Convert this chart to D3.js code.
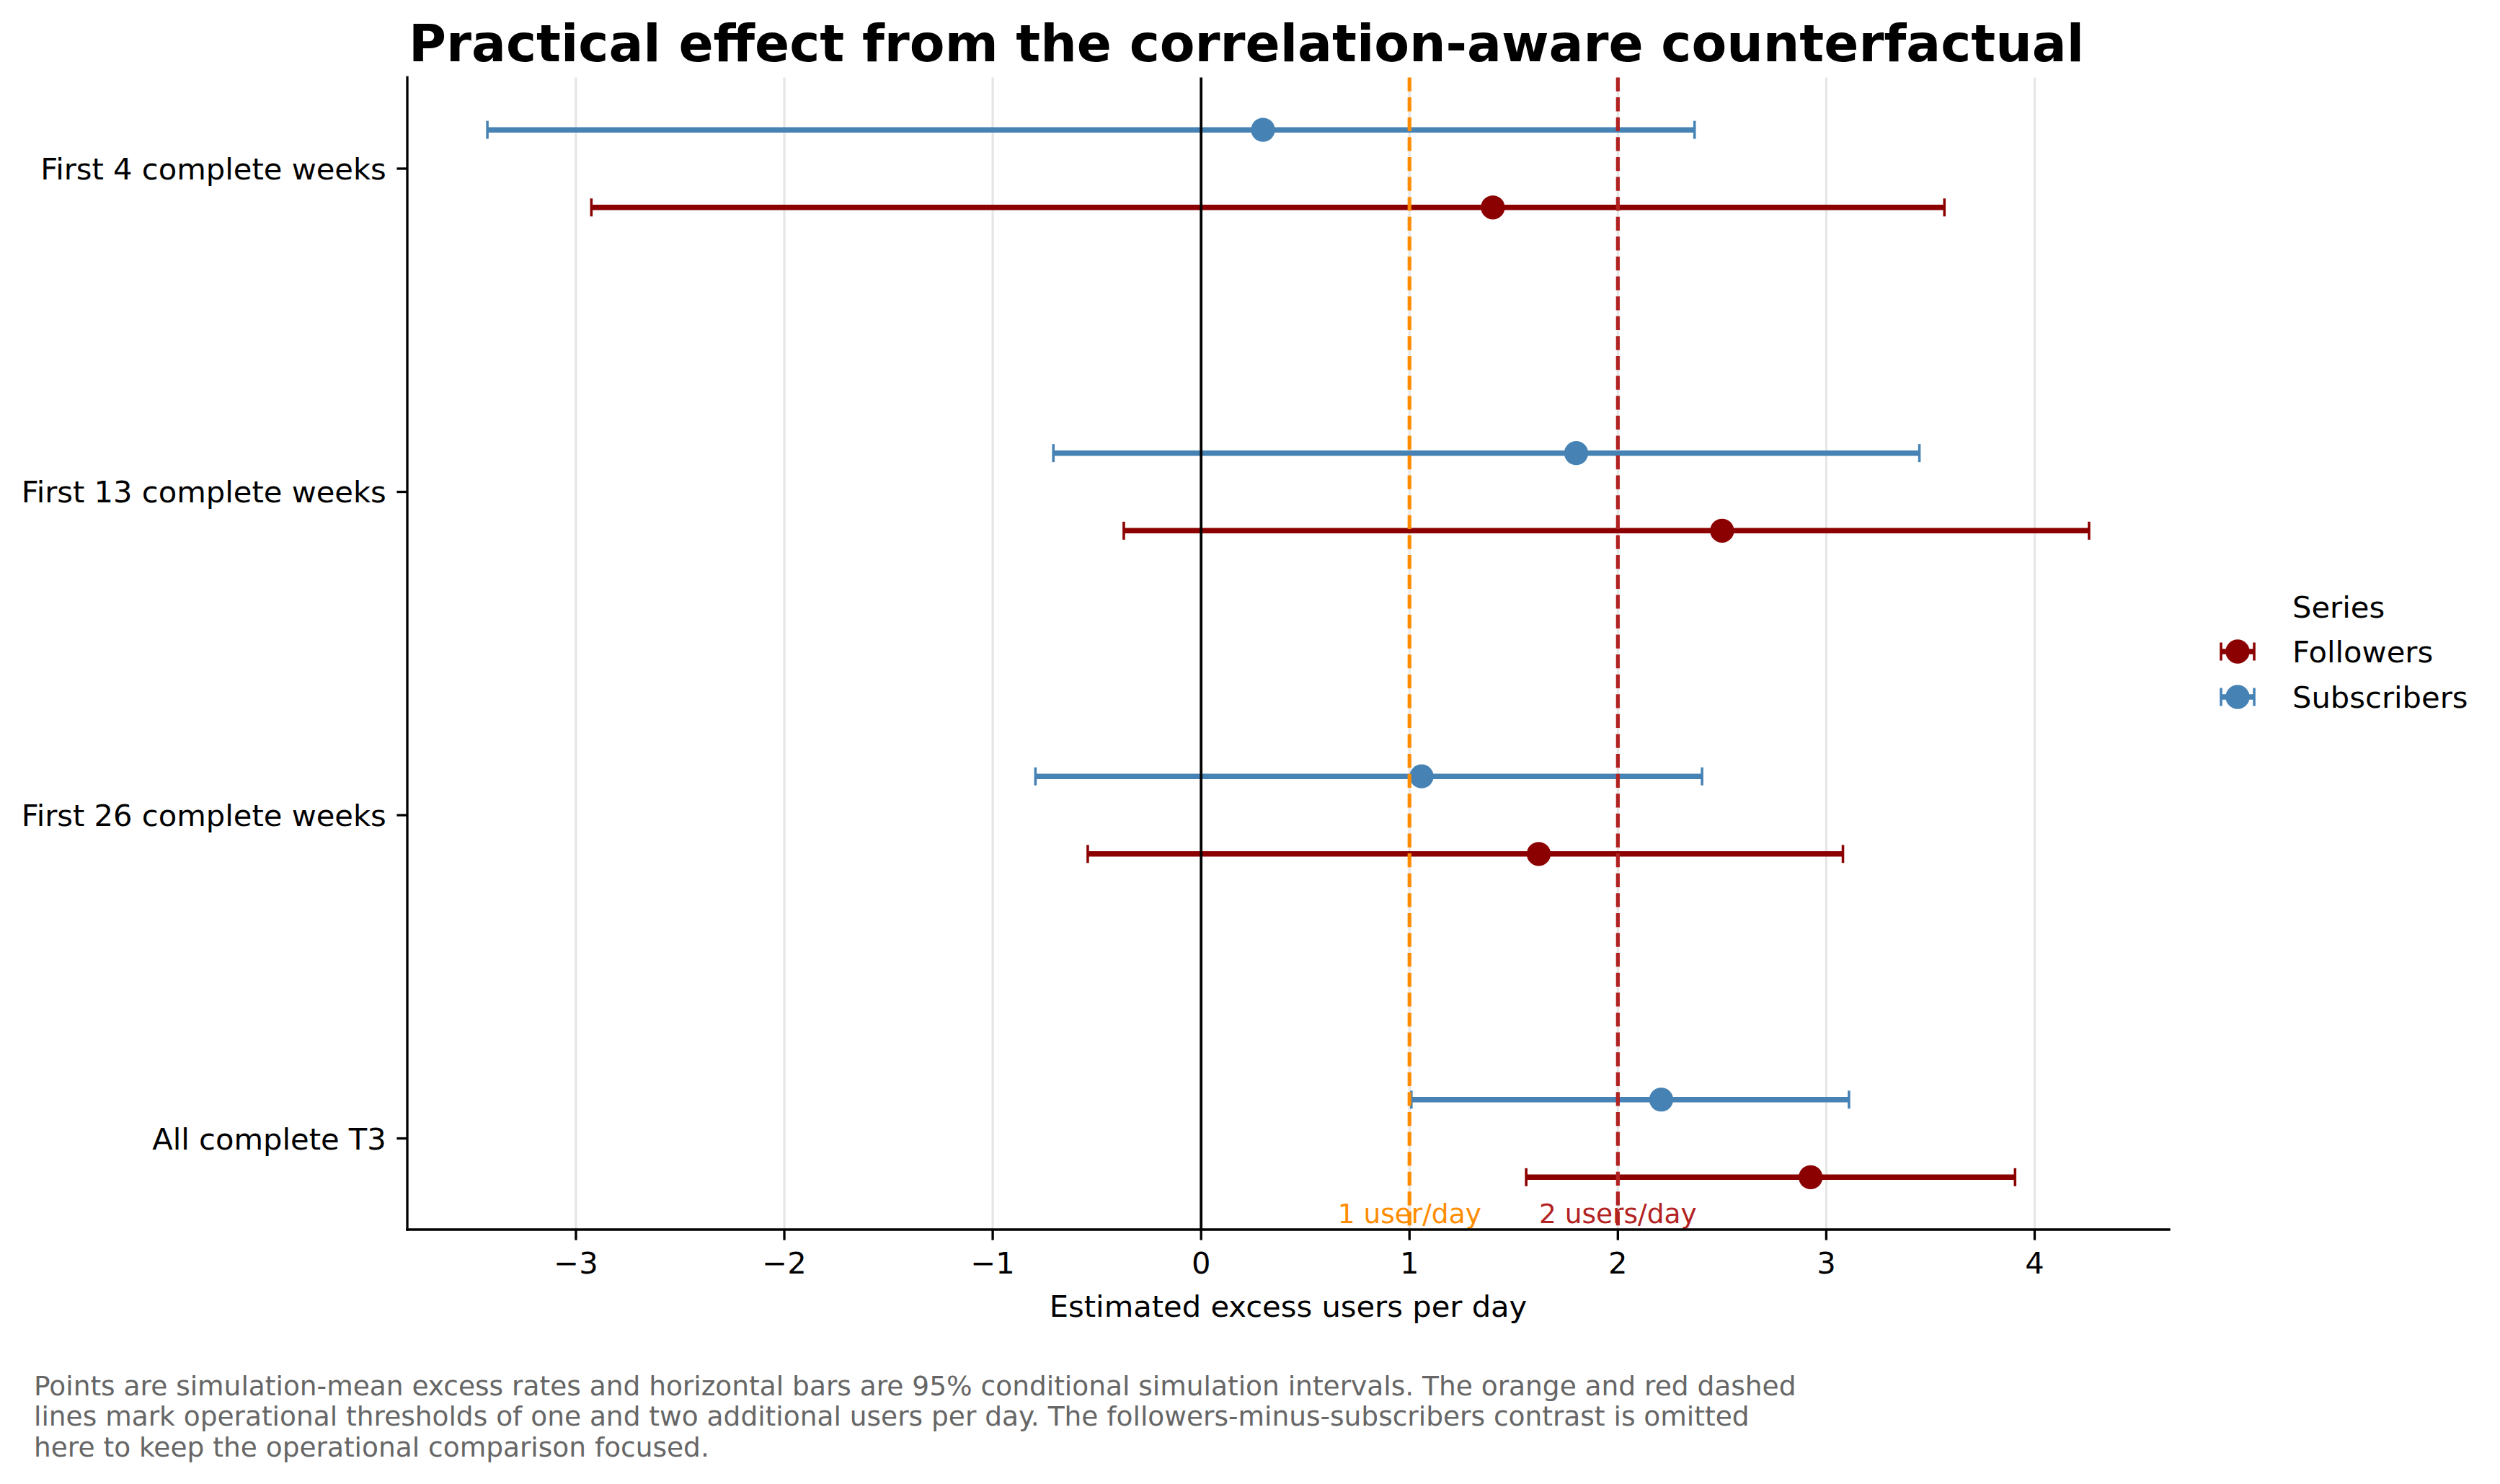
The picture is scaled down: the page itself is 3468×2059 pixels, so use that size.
<!DOCTYPE html>
<html>
<head>
<meta charset="utf-8">
<script src="https://cdn.jsdelivr.net/npm/d3@7"></script>
<style>
  html, body { margin: 0; padding: 0; background: #fff; }
  svg { display: block; }
  text { font-family: "DejaVu Sans", sans-serif; }
</style>
</head>
<body>
<script>
// ---- data ----
const categories = ["First 4 complete weeks", "First 13 complete weeks", "First 26 complete weeks", "All complete T3"];
const seriesNames = ["Followers", "Subscribers"];
const followersMean = [1.40, 2.50, 1.62, 2.925];
const followersLow  = [-2.926, -0.371, -0.544, 1.560];
const followersHigh = [3.567, 4.261, 3.080, 3.906];
const subscribersMean = [0.297, 1.80, 1.058, 2.208];
const subscribersLow  = [-3.425, -0.709, -0.795, 1.009];
const subscribersHigh = [2.368, 3.447, 2.404, 3.109];
const xTickValues = [-3, -2, -1, 0, 1, 2, 3, 4];
const xTickLabels = ["\u22123", "\u22122", "\u22121", "0", "1", "2", "3", "4"];
const thresholds = [1, 2];
const thresholdLabels = ["1 user/day", "2 users/day"];
const titleText = "Practical effect from the correlation-aware counterfactual";
const xLabelText = "Estimated excess users per day";
const footnoteLines = [
  "Points are simulation-mean excess rates and horizontal bars are 95% conditional simulation intervals. The orange and red dashed",
  "lines mark operational thresholds of one and two additional users per day. The followers-minus-subscribers contrast is omitted",
  "here to keep the operational comparison focused."
];

// ---- layout / style ----
const W = 3468, H = 2059;
const PT = 300 / 72;
const axL = 565, axR = 3009, axT = 107.5, axB = 1706;
const colors = { Followers: "#8b0000", Subscribers: "#4682b4" };
const thresholdColors = ["#ff8c00", "#b22222"];
const offsets = { Followers: -0.12, Subscribers: 0.12 };

const series = [
  { name: "Followers", mean: followersMean, low: followersLow, high: followersHigh },
  { name: "Subscribers", mean: subscribersMean, low: subscribersLow, high: subscribersHigh }
];

const svg = d3.select("body").append("svg").attr("width", W).attr("height", H);

// x scale with 5% padding on data extent (matplotlib autoscale)
const allX = followersLow.concat(followersHigh, subscribersLow, subscribersHigh, followersMean, subscribersMean);
const xmin = d3.min(allX), xmax = d3.max(allX);
const xpad = 0.05 * (xmax - xmin);
const x = d3.scaleLinear().domain([xmin - xpad, xmax + xpad]).range([axL, axR]);

// y: categories at integer positions (bottom = 0), +-0.12 offsets
const n = categories.length;
const yPos = categories.map((c, i) => n - 1 - i);
const ymin = -0.12, ymax = (n - 1) + 0.12;
const ypad = 0.05 * (ymax - ymin);
const y = d3.scaleLinear().domain([ymin - ypad, ymax + ypad]).range([axB, axT]);

// grid
svg.append("g").selectAll("line").data(xTickValues).join("line")
  .attr("x1", d => x(d)).attr("x2", d => x(d))
  .attr("y1", axT).attr("y2", axB)
  .attr("stroke", "#e6e6e6").attr("stroke-width", 3.2);

// error bars
const capH = 3 * PT;
series.forEach(s => {
  const g = svg.append("g");
  const rows = categories.map((c, i) => ({ yy: yPos[i] + offsets[s.name], lo: s.low[i], hi: s.high[i], m: s.mean[i] }));
  g.selectAll("line.bar").data(rows).join("line").attr("class", "bar")
    .attr("x1", d => x(d.lo)).attr("x2", d => x(d.hi))
    .attr("y1", d => y(d.yy)).attr("y2", d => y(d.yy))
    .attr("stroke", colors[s.name]).attr("stroke-width", 1.8 * PT);
  ["lo", "hi"].forEach(k => {
    g.selectAll("line.cap" + k).data(rows).join("line").attr("class", "cap" + k)
      .attr("x1", d => x(d[k])).attr("x2", d => x(d[k]))
      .attr("y1", d => y(d.yy) - capH).attr("y2", d => y(d.yy) + capH)
      .attr("stroke", colors[s.name]).attr("stroke-width", 0.85 * PT);
  });
  g.selectAll("circle").data(rows).join("circle")
    .attr("cx", d => x(d.m)).attr("cy", d => y(d.yy))
    .attr("r", 4 * PT).attr("fill", colors[s.name]);
});

// zero line
svg.append("line")
  .attr("x1", x(0)).attr("x2", x(0)).attr("y1", axT).attr("y2", axB)
  .attr("stroke", "#000").attr("stroke-width", 0.9 * PT);

// thresholds
thresholds.forEach((t, i) => {
  svg.append("line")
    .attr("x1", x(t)).attr("x2", x(t)).attr("y1", axT).attr("y2", axB)
    .attr("stroke", thresholdColors[i]).attr("stroke-width", 1.25 * PT)
    .attr("stroke-dasharray", `${3.7 * 1.25 * PT},${1.6 * 1.25 * PT}`);
  svg.append("text")
    .attr("x", x(t)).attr("y", axB - 9)
    .attr("text-anchor", "middle")
    .attr("font-size", 9 * PT)
    .attr("fill", thresholdColors[i])
    .text(thresholdLabels[i]);
});

// spines
svg.append("line").attr("x1", axL).attr("x2", axL).attr("y1", axT).attr("y2", axB)
  .attr("stroke", "#000").attr("stroke-width", 0.8 * PT).attr("stroke-linecap", "square");
svg.append("line").attr("x1", axL).attr("x2", axR).attr("y1", axB).attr("y2", axB)
  .attr("stroke", "#000").attr("stroke-width", 0.8 * PT).attr("stroke-linecap", "square");

// x axis ticks
const tickLen = 3.5 * PT;
const fs = 10 * PT;
const xt = svg.append("g");
xt.selectAll("line").data(xTickValues).join("line")
  .attr("x1", d => x(d)).attr("x2", d => x(d))
  .attr("y1", axB).attr("y2", axB + tickLen)
  .attr("stroke", "#000").attr("stroke-width", 0.8 * PT);
xt.selectAll("text").data(xTickValues).join("text")
  .attr("x", d => x(d)).attr("y", axB + 61)
  .attr("text-anchor", "middle").attr("font-size", fs)
  .text((d, i) => xTickLabels[i]);

// y axis ticks
const yt = svg.append("g");
yt.selectAll("line").data(categories).join("line")
  .attr("x1", axL - tickLen).attr("x2", axL)
  .attr("y1", (d, i) => y(yPos[i])).attr("y2", (d, i) => y(yPos[i]))
  .attr("stroke", "#000").attr("stroke-width", 0.8 * PT);
yt.selectAll("text").data(categories).join("text")
  .attr("x", axL - tickLen - 3.5 * PT).attr("y", (d, i) => y(yPos[i]) + 15)
  .attr("text-anchor", "end").attr("font-size", fs)
  .text(d => d);

// x label
svg.append("text").attr("x", (axL + axR) / 2).attr("y", 1827)
  .attr("text-anchor", "middle").attr("font-size", fs).text(xLabelText);

// title
svg.append("text").attr("x", axL + 2).attr("y", 85)
  .attr("font-size", 71).attr("font-weight", "bold").text(titleText);

// legend
const lg = svg.append("g");
lg.append("text").attr("x", 3180).attr("y", 857).attr("font-size", fs).text("Series");
seriesNames.forEach((name, i) => {
  const cy = 904 + i * 63;
  const c = colors[name];
  lg.append("line").attr("x1", 3081).attr("x2", 3127).attr("y1", cy).attr("y2", cy)
    .attr("stroke", c).attr("stroke-width", 1.8 * PT);
  [3081, 3127].forEach(cx => {
    lg.append("line").attr("x1", cx).attr("x2", cx).attr("y1", cy - capH).attr("y2", cy + capH)
      .attr("stroke", c).attr("stroke-width", 0.85 * PT);
  });
  lg.append("circle").attr("cx", 3104).attr("cy", cy).attr("r", 4 * PT).attr("fill", c);
  lg.append("text").attr("x", 3180).attr("y", cy + 15).attr("font-size", fs).text(name);
});

// footnote
svg.append("g").selectAll("text").data(footnoteLines).join("text")
  .attr("x", 47).attr("y", (d, i) => 1935.7 + i * 42.6)
  .attr("font-size", 37.5).attr("fill", "#666666")
  .text(d => d);
</script>
</body>
</html>
